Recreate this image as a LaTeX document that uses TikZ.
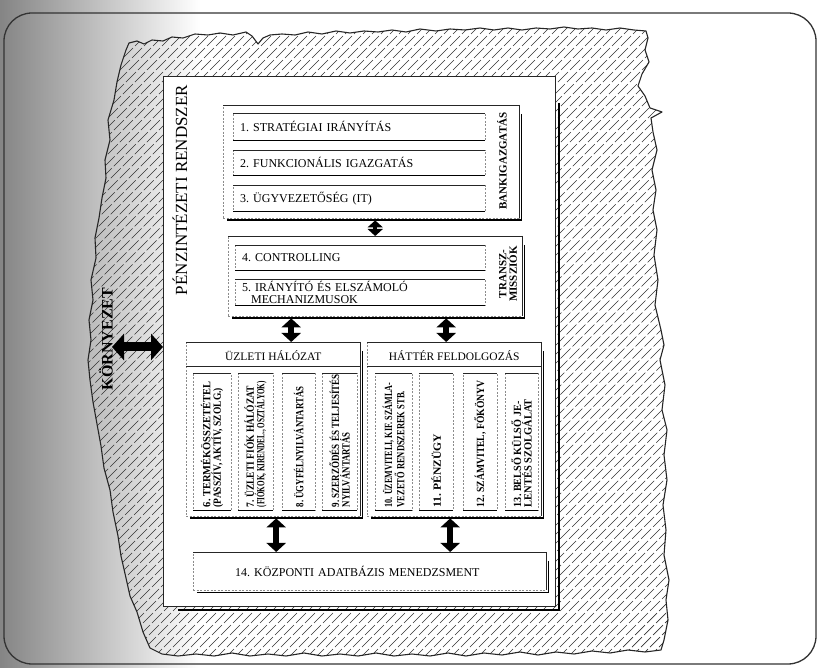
\documentclass[tikz,border=0pt]{standalone}
\usepackage{fontspec}
\usepackage{graphicx}
\setmainfont{Liberation Serif}
\usetikzlibrary{arrows.meta,calc}
\frenchspacing

% torn outline of the environment area
\newcommand\blobpath[1]{\path[#1]
 (129,43) -- (137,41) -- (144,44) -- (152,40) -- (163,41) -- (172,37) -- (183,38) -- (195,34) -- (208,35) -- (220,33) -- (233,35) -- (246,32) -- (252,36) -- (258,44) -- (263,38) -- (270,35) -- (282,34) -- (295,35) -- (308,32) -- (322,34) -- (336,31) -- (350,33) -- (364,31) -- (378,32) -- (392,30) -- (406,32) -- (420,29) -- (436,31) -- (450,29) -- (465,30) -- (480,28) -- (494,30) -- (508,28) -- (522,30) -- (536,28) -- (550,29) -- (564,27) -- (578,29) -- (592,28) -- (606,30) -- (620,28) -- (634,30) -- (646,31)
 -- (648,38) -- (645,50) -- (649,62) -- (642,74) -- (638,86) -- (645,96) -- (650,108) -- (662,112) -- (651,118) -- (653,132) -- (657,150) -- (652,170) -- (656,190) -- (653,210) -- (657,230) -- (654,255) -- (658,280) -- (655,305) -- (661,330) -- (664,345) -- (660,360) -- (665,385) -- (662,410) -- (667,430) -- (664,455) -- (667,480) -- (663,505) -- (666,530) -- (664,555) -- (669,580) -- (666,600) -- (668,620) -- (664,640) -- (661,650)
 -- (645,652) -- (628,650) -- (610,653) -- (592,651) -- (574,654) -- (556,652) -- (538,655) -- (520,652) -- (502,655) -- (484,653) -- (466,656) -- (448,653) -- (430,656) -- (412,654) -- (394,656) -- (376,653) -- (358,656) -- (340,654) -- (322,656) -- (304,653) -- (286,656) -- (268,654) -- (250,656) -- (232,653) -- (214,656) -- (196,654) -- (178,656) -- (162,654) -- (150,648)
 -- (143,632) -- (137,612) -- (130,596) -- (126,578) -- (121,556) -- (118,536) -- (113,512) -- (110,490) -- (104,468) -- (101,446) -- (97,424) -- (93,402) -- (90,380) -- (88,360) -- (91,340) -- (89,320) -- (93,300) -- (91,280) -- (96,258) -- (95,238) -- (99,218) -- (102,198) -- (106,178) -- (105,160) -- (110,140) -- (108,120) -- (114,100) -- (117,82) -- (121,65) -- (126,50) -- cycle;}

\begin{document}
\begin{tikzpicture}[x=1pt,y=-1pt,
  frameline/.style={draw=black!80, line width=1.3pt, rounded corners=28pt},
  hatchline/.style={black!80, line width=0.7pt, dash pattern=on 14pt off 3pt},
  blobedge/.style={draw=black!85, line width=1.1pt, line join=round},
  sysbox/.style={draw=black!85, line width=0.7pt, fill=white, inner sep=0pt},
  panel/.style={draw=black!45, line width=0.4pt, dash pattern=on 2pt off 1.5pt, fill=white, inner sep=0pt},
  topedge/.style={black!85, line width=0.6pt},
  bottomedge/.style={black, line width=1.5pt},
  rightedge/.style={black!85, line width=0.6pt},
  shadowedge/.style={black, line width=1.8pt},
  rowtext/.style={font=\fontsize{12}{12.5}\selectfont, align=left, inner xsep=7pt, inner ysep=0pt},
  headtext/.style={font=\fontsize{11.5}{12.5}\selectfont, inner sep=0pt},
  sidelabel/.style={rotate=90, align=center, inner sep=0pt, font=\fontsize{11}{10.5}\selectfont\bfseries},
  coltext/.style={rotate=90, anchor=west, align=left, inner sep=0pt, font=\fontsize{11}{10.5}\selectfont\bfseries},
  titletext/.style={rotate=90, inner sep=0pt, font=\fontsize{17}{18}\selectfont},
  envtext/.style={rotate=90, inner sep=0pt, font=\fontsize{16}{17}\selectfont\bfseries},
  dblarrow/.style={line width=6pt, {Triangle[width=19pt,length=9pt]}-{Triangle[width=19pt,length=9pt]}},
  smallarrow/.style={line width=4pt, {Triangle[width=15pt,length=7pt]}-{Triangle[width=15pt,length=7pt]}},
  bigarrow/.style={line width=9pt, {Triangle[width=26pt,length=12pt]}-{Triangle[width=26pt,length=12pt]}}
]
\useasboundingbox (0,0) rectangle (823,668);

% page tint along the left edge
\shade[left color=black!48, right color=white] (0,0) rectangle (200,668);

% page frame
\draw[frameline] (4,13) rectangle (816,664);

% hatched environment
\begin{scope}
  \blobpath{clip}
  \foreach \c in {100,109,...,1340} \draw[hatchline] (\c,0) -- ({\c-700},700);
\end{scope}
\blobpath{blobedge}

% the institution as a whole
\node[sysbox, anchor=north west, minimum width=392, minimum height=530] (sys) at (163,76) {};
\draw[shadowedge, line width=2.4pt] ($(sys.north east)+(3,27)$) -- ($(sys.south east)+(3,3)$) -- ($(sys.south west)+(15,3)$);
\node[titletext] (systitle) at (180,190) {PÉNZINTÉZETI RENDSZER};

% environment and its link to the system
\node[envtext] (env) at (106,339) {KÖRNYEZET};
\coordinate (envtip) at (112,347);
\draw[bigarrow] (envtip) -- (envtip -| sys.west);

% bank management
\node[panel, anchor=north west, minimum width=296, minimum height=113] (gov) at (223,105) {};
\node[panel, rowtext, anchor=north west, minimum height=27, text width=238pt] (r1) at (233,113) {1. STRATÉGIAI IRÁNYÍTÁS};
\node[panel, rowtext, anchor=north west, minimum height=25, text width=238pt] (r2) at (233,150) {2. FUNKCIONÁLIS IGAZGATÁS};
\node[panel, rowtext, anchor=north west, minimum height=26, text width=238pt] (r3) at (233,185) {3. ÜGYVEZETŐSÉG (IT)};
\node[sidelabel] (govlabel) at (502,161) {BANKIGAZGATÁS};

% transmissions
\node[panel, anchor=north west, minimum width=294, minimum height=80] (trans) at (228,236) {};
\node[panel, rowtext, anchor=north west, minimum height=25, text width=236pt] (r4) at (235,245) {4. CONTROLLING};
\node[panel, rowtext, anchor=north west, minimum height=26, text width=236pt] (r5) at (235,279) {5. IRÁNYÍTÓ ÉS ELSZÁMOLÓ\\\hspace*{9pt}MECHANIZMUSOK};
\node[sidelabel] (translabel) at (508,274) {TRANSZ-\\MISSZIÓK};

% business network
\node[panel, anchor=north west, minimum width=174, minimum height=174] (uzl) at (186,342) {};
\node[headtext] (uzlhead) at ($(uzl.north)+(0,14)$) {ÜZLETI HÁLÓZAT};
\node[panel, anchor=north west, minimum width=38, minimum height=137] (c6) at (193,373) {};
\node[panel, anchor=north west, minimum width=35, minimum height=137] (c7) at (238,373) {};
\node[panel, anchor=north west, minimum width=33, minimum height=137] (c8) at (282,373) {};
\node[panel, anchor=north west, minimum width=35, minimum height=137] (c9) at (322,373) {};
\node[coltext] (t6) at ($(c6.south)+(0,-3)$) {\scalebox{0.95}[1]{6. TERMÉKÖSSZETÉTEL}\\\scalebox{0.865}[1]{(PASSZÍV, AKTÍV, SZOLG.)}};
\node[coltext] (t7) at ($(c7.south)+(0,-3)$) {\scalebox{0.865}[1]{7. ÜZLETI FIÓK HÁLÓZAT}\\\scalebox{0.65}[1]{(FIÓKOK, KIRENDEL., OSZTÁLYOK)}};
\node[coltext] (t8) at ($(c8.south)+(0,-3)$) {\scalebox{0.8}[1]{8. ÜGYFÉLNYILVÁNTARTÁS}};
\node[coltext] (t9) at ($(c9.south)+(0,-3)$) {\scalebox{0.82}[1]{9. SZERZŐDÉS ÉS TELJESÍTÉS}\\\scalebox{0.8}[1]{NYILVÁNTARTÁS}};

% back office processing
\node[panel, anchor=north west, minimum width=174, minimum height=174] (hat) at (367,342) {};
\node[headtext] (hathead) at ($(hat.north)+(0,14)$) {HÁTTÉR FELDOLGOZÁS};
\node[panel, anchor=north west, minimum width=37, minimum height=137] (c10) at (375,373) {};
\node[panel, anchor=north west, minimum width=34, minimum height=137] (c11) at (419,373) {};
\node[panel, anchor=north west, minimum width=34, minimum height=137] (c12) at (463,373) {};
\node[panel, anchor=north west, minimum width=33, minimum height=137] (c13) at (505,373) {};
\node[coltext] (t10) at ($(c10.south)+(0,-3)$) {\scalebox{0.74}[1]{10. ÜZEMVITELI, KIF. SZÁMLA-}\\\scalebox{0.77}[1]{VEZETŐ RENDSZEREK STB.}};
\node[coltext] (t11) at ($(c11.south)+(0,-3)$) {\scalebox{1.05}[1]{11. PÉNZÜGY}};
\node[coltext] (t12) at ($(c12.south)+(0,-3)$) {\scalebox{0.88}[1]{12. SZÁMVITEL, FŐKÖNYV}};
\node[coltext] (t13) at ($(c13.south)+(0,-3)$) {\scalebox{0.93}[1]{13. BELSŐ KÜLSŐ JE-}\\\scalebox{0.95}[1]{LENTÉS SZOLGÁLAT}};

% central database
\node[panel, rowtext, anchor=north west, minimum height=38, inner xsep=42pt, text width=269pt] (db) at (193,552) {14. KÖZPONTI ADATBÁZIS MENEDZSMENT};

% solid top edges and heavy lower edges of the inner boxes
\foreach \n in {r1,r2,r3,r4,r5,c6,c7,c8,c9,c10,c11,c12,c13}{
  \draw[topedge] (\n.north west) -- (\n.north east);
  \draw[bottomedge] (\n.south west) -- (\n.south east);
}
% block outlines with their drop shadows
\foreach \n in {gov,trans,uzl,hat,db}{
  \draw[topedge] (\n.north west) -- (\n.north east);
  \draw[rightedge] (\n.north east) -- (\n.south east);
  \draw[shadowedge] ($(\n.north east)+(2,9)$) -- ($(\n.south east)+(2,2)$) -- ($(\n.south west)+(4,2)$);
}
\draw[topedge] ($(uzl.north west)+(0,24)$) -- ($(uzl.north east)+(0,24)$);
\draw[topedge] ($(hat.north west)+(0,24)$) -- ($(hat.north east)+(0,24)$);

% links between the blocks
\draw[smallarrow] ($(gov.south)+(4,2)$) -- (trans.north);
\draw[dblarrow] ($(trans.south)+(-84,2)$) -- ($(uzl.north)+(18,0)$);
\draw[dblarrow] ($(trans.south)+(71,2)$) -- ($(hat.north)+(-8,0)$);
\draw[dblarrow] ($(uzl.south)+(3,2)$) -- ($(db.north)+(-93.5,0)$);
\draw[dblarrow] ($(hat.south)+(-4,2)$) -- ($(db.north)+(80.5,0)$);
\end{tikzpicture}
\end{document}
